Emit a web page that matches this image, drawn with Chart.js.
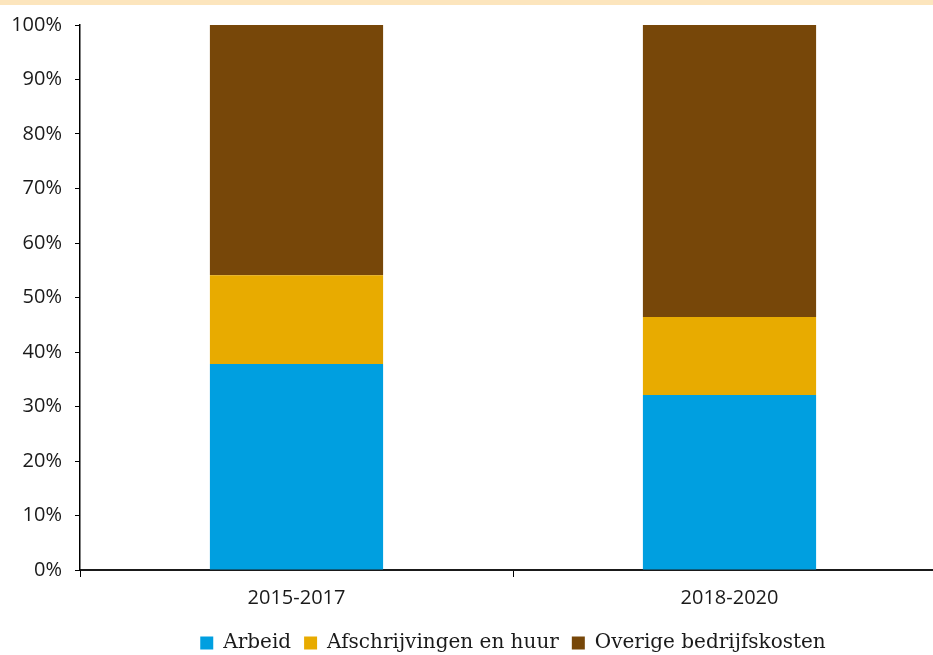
<!DOCTYPE html>
<html>
<head>
<meta charset="utf-8">
<script src="https://cdn.jsdelivr.net/npm/chart.js@4/dist/chart.umd.min.js"></script>
<style>
    html, body { margin: 0; padding: 0; background: #fff; overflow: hidden; }
    .topband { position: absolute; left: 0; top: 0; width: 933px; height: 5px; background: #fce5bd; }
    .wrap { position: absolute; left: 0; top: 0; width: 946px; height: 655px; }
</style>
</head>
<body>
<div class="wrap"><canvas id="costChart"></canvas></div>
<div class="topband"></div>
<script>
// Periods and cost shares (percent of total costs)
const periods = ['2015-2017', '2018-2020'];
const arbeid = [37.8, 32.1];
const afschrijvingen = [16.3, 14.3];
const overige = [45.9, 53.6];
const yTicks = [0, 10, 20, 30, 40, 50, 60, 70, 80, 90, 100];

// Colors
const colors = {
    arbeid: '#009fe0',
    afschrijvingen: '#e8ab00',
    overige: '#774709'
};

const tickFont = { family: '"Open Sans", sans-serif', size: 20 };

// Center the legend under the plot area and drop it a little lower
const legendShift = {
    id: 'legendShift',
    afterLayout(chart) {
        const legend = chart.legend;
        const area = chart.chartArea;
        const dx = (area.left + area.right) / 2 - (legend.left + legend.right) / 2;
        legend.left += dx;
        legend.right += dx;
        legend.top += 10;
        legend.bottom += 10;
    }
};

function createCostChart() {
    const ctx = document.getElementById('costChart').getContext('2d');
    return new Chart(ctx, {
        type: 'bar',
        data: {
            labels: periods,
            datasets: [
                { label: 'Arbeid', data: arbeid, backgroundColor: colors.arbeid },
                { label: 'Afschrijvingen en huur', data: afschrijvingen, backgroundColor: colors.afschrijvingen },
                { label: 'Overige bedrijfskosten', data: overige, backgroundColor: colors.overige }
            ]
        },
        options: {
            responsive: true,
            maintainAspectRatio: false,
            animation: false,
            datasets: {
                bar: { barPercentage: 0.4, categoryPercentage: 1.0 }
            },
            layout: { padding: { top: 16, right: 0, bottom: 2, left: 0 } },
            scales: {
                x: {
                    stacked: true,
                    offset: true,
                    afterFit: (scale) => { scale.height = 40; },
                    grid: {
                        offset: true,
                        drawOnChartArea: false,
                        drawTicks: true,
                        tickLength: 7,
                        color: '#000'
                    },
                    border: { display: true, color: '#1a1a1a', width: 2 },
                    ticks: { color: '#1a1a1a', font: tickFont, padding: 9 }
                },
                y: {
                    stacked: true,
                    min: 0,
                    max: 100,
                    afterFit: (scale) => { scale.width = 80; },
                    afterBuildTicks: (scale) => {
                        scale.ticks = yTicks.map(v => ({ value: v }));
                    },
                    grid: {
                        drawOnChartArea: false,
                        drawTicks: true,
                        tickLength: 5,
                        color: '#000'
                    },
                    border: { display: true, color: '#000', width: 1.5 },
                    ticks: {
                        color: '#1a1a1a',
                        font: tickFont,
                        padding: 13,
                        callback: (v) => v + '%'
                    }
                }
            },
            plugins: {
                tooltip: { enabled: false },
                legend: {
                    position: 'bottom',
                    align: 'center',
                    labels: {
                        boxWidth: 13,
                        boxHeight: 13,
                        padding: 13,
                        color: '#1a1a1a',
                        font: { family: '"DejaVu Serif", serif', size: 20 }
                    }
                }
            }
        },
        plugins: [legendShift]
    });
}

createCostChart();
</script>
</body>
</html>
